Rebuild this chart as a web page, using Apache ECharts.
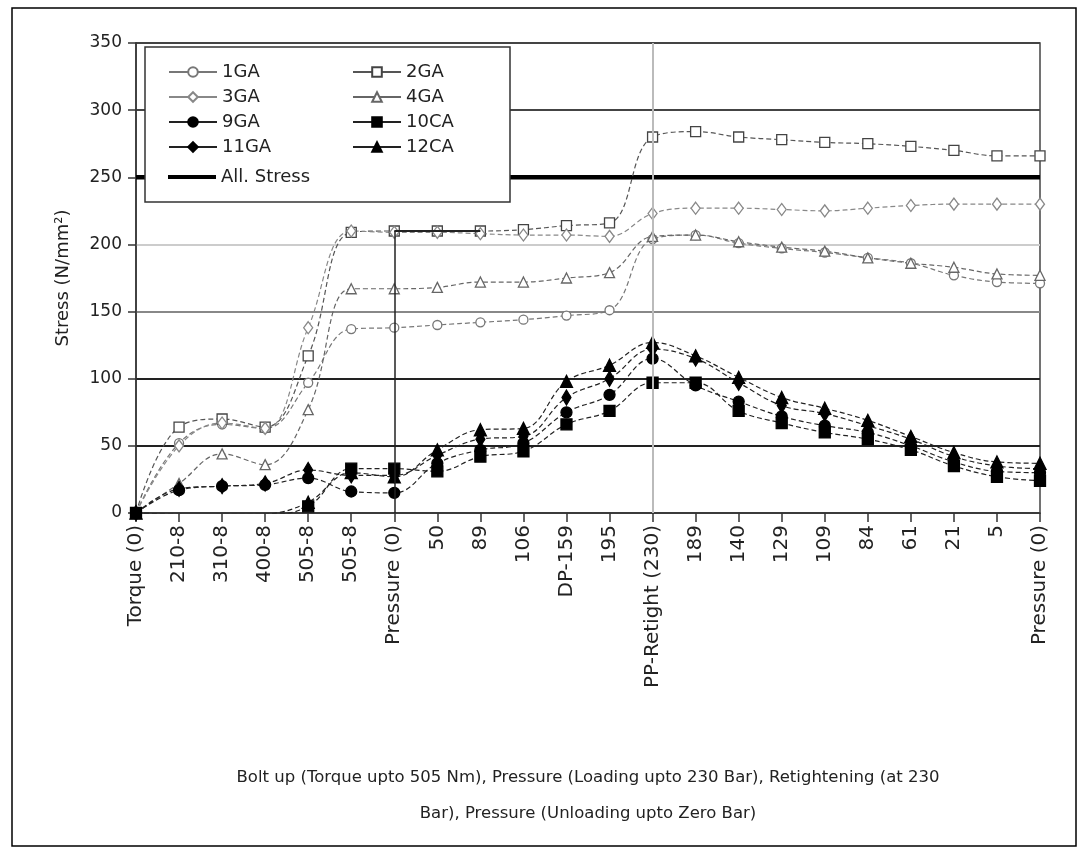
<!DOCTYPE html>
<html>
<head>
<meta charset="utf-8">
<script src="https://cdn.jsdelivr.net/npm/echarts@6/dist/echarts.min.js"></script>
<style>
html,body{margin:0;padding:0;background:#fff;}
#c{width:1088px;height:859px;}
</style>
</head>
<body>
<div id="c"></div>
<script>
const categories = ['Torque (0)','210-8','310-8','400-8','505-8','505-8','Pressure (0)','50','89','106','DP-159','195','PP-Retight (230)','189','140','129','109','84','61','21','5','Pressure (0)'];
const yTicks = [0, 50, 100, 150, 200, 250, 300, 350];

const s1GA  = [0, 52, 66, 63, 97, 137, 138, 140, 142, 144, 147, 151, 204, 207, 201, 197, 194, 190, 186, 177, 172, 171];
const s2GA  = [0, 64, 70, 64, 117, 209, 210, 210, 210, 211, 214, 216, 280, 284, 280, 278, 276, 275, 273, 270, 266, 266];
const s3GA  = [0, 50, 67, 63, 138, 210, 209, 209, 208, 207, 207, 206, 223, 227, 227, 226, 225, 227, 229, 230, 230, 230];
const s4GA  = [0, 22, 44, 36, 77, 167, 167, 168, 172, 172, 175, 179, 206, 207, 202, 198, 195, 190, 186, 183, 178, 177];
const s9GA  = [0, 17, 20, 21, 26, 16, 15, 37, 47, 52, 75, 88, 115, 95, 83, 72, 65, 60, 50, 38, 31, 30];
const s10CA = [0, -3, -1, -1, 5, 33, 33, 31, 42, 46, 66, 76, 97, 97, 76, 67, 60, 55, 47, 35, 27, 24];
const s11GA = [0, 18, 20, 22, 32, 28, 28, 43, 55, 57, 86, 100, 122, 115, 97, 80, 74, 65, 55, 42, 35, 33];
const s12CA = [0, -1, -2, -1, 8, 30, 27, 47, 62, 63, 98, 110, 127, 117, 101, 86, 78, 69, 57, 45, 38, 37];
const allowStress = [250, 250, 250, 250, 250, 250, 250, 250, 250, 250, 250, 250, 250, 250, 250, 250, 250, 250, 250, 250, 250, 250];
const markIdx = 6, markTop = 210, markEnd = 8, retightIdx = 12;

const FONT = 'DejaVu Sans';

function mk(name, data, symbol, size, lineColor, markColor, filled) {
  return {
    name, type: 'line', data, symbol, symbolSize: size, smooth: 0.4,
    showSymbol: true,
    lineStyle: { color: lineColor, width: 1.2, type: [5, 3] },
    itemStyle: { color: filled ? markColor : '#fff', borderColor: markColor, borderWidth: 1.3 },
    z: 2
  };
}

const series = [
  mk('1GA', s1GA, 'circle', 9, '#777', '#777', false),
  mk('2GA', s2GA, 'rect', 10, '#555', '#444', false),
  mk('3GA', s3GA, 'diamond', [9, 12], '#888', '#888', false),
  mk('4GA', s4GA, 'triangle', 10, '#666', '#666', false),
  mk('9GA', s9GA, 'circle', 11, '#222', '#000', true),
  mk('10CA', s10CA, 'rect', 11, '#222', '#000', true),
  mk('11GA', s11GA, 'diamond', [9, 15], '#222', '#000', true),
  mk('12CA', s12CA, 'triangle', 12, '#222', '#000', true),
  {
    name: 'All. Stress', type: 'line', data: allowStress, symbol: 'none', z: 1,
    lineStyle: { color: '#000', width: 4.5, type: 'solid' }, itemStyle: { color: '#000' },
    markLine: {
      silent: true, symbol: 'none', label: { show: false },
      data: [
        [{ coord: [markIdx, 0], lineStyle: { color: '#222', width: 1.5, type: 'solid' } }, { coord: [markIdx, markTop] }],
        [{ coord: [markIdx, markTop], lineStyle: { color: '#222', width: 2, type: 'solid' } }, { coord: [markEnd, markTop] }],
        [{ coord: [retightIdx, 0], lineStyle: { color: '#bbb', width: 2, type: 'solid' } }, { coord: [retightIdx, 350] }]
      ]
    }
  }
];

const legendText = { fontFamily: FONT, fontSize: 18, color: '#222', lineHeight: 20 };

const chart = echarts.init(document.getElementById('c'), null, { renderer: 'canvas' });
chart.setOption({
  animation: false,
  backgroundColor: '#fff',
  textStyle: { fontFamily: FONT },
  grid: { left: 136, right: 48, top: 43, bottom: 346, show: true, borderColor: '#444', borderWidth: 1.5, backgroundColor: 'transparent' },
  legend: [
    {
      data: ['1GA', '3GA', '9GA', '11GA'],
      orient: 'vertical', left: 163, top: 57, itemGap: 5, itemWidth: 48, itemHeight: 12,
      textStyle: legendText, lineStyle: { type: 'solid' }, z: 10, selectedMode: false
    },
    {
      data: ['2GA', '4GA', '10CA', '12CA'],
      orient: 'vertical', left: 347, top: 57, itemGap: 5, itemWidth: 48, itemHeight: 12,
      textStyle: legendText, lineStyle: { type: 'solid' }, z: 10, selectedMode: false
    },
    {
      data: [{ name: 'All. Stress', icon: 'rect' }],
      orient: 'vertical', left: 163, top: 162, itemWidth: 48, itemHeight: 4,
      itemStyle: { color: '#000' },
      textStyle: legendText, z: 10, selectedMode: false
    }
  ],
  graphic: [
    { type: 'rect', z: 8, shape: { x: 145, y: 47, width: 365, height: 155 }, style: { fill: '#fff', stroke: '#333', lineWidth: 1.5 } },
    { type: 'rect', z: 0, shape: { x: 12, y: 8, width: 1064, height: 838 }, style: { fill: 'none', stroke: '#000', lineWidth: 1.5 } }
  ],
  xAxis: {
    type: 'category', data: categories, boundaryGap: false,
    axisLine: { lineStyle: { color: '#333', width: 1.5 } },
    axisTick: { show: true, length: 9, lineStyle: { color: '#333', width: 1.5 } },
    axisLabel: { rotate: 90, interval: 0, margin: 12, fontFamily: FONT, fontSize: 20, color: '#222' },
    splitLine: { show: false },
    name: 'Bolt up (Torque upto 505 Nm), Pressure (Loading upto 230 Bar), Retightening (at 230\nBar), Pressure (Unloading upto Zero Bar)',
    nameLocation: 'middle', nameGap: 247,
    nameTextStyle: { fontFamily: FONT, fontSize: 16.5, color: '#222', lineHeight: 36 }
  },
  yAxis: {
    type: 'value', min: 0, max: 350, interval: 50,
    axisLine: { show: true, lineStyle: { color: '#333', width: 1.5 } },
    axisTick: { show: true, length: 8, lineStyle: { color: '#333', width: 1.5 } },
    axisLabel: { margin: 14, fontFamily: FONT, fontSize: 17, color: '#222', formatter: v => yTicks.includes(v) ? String(v) : '' },
    splitLine: { show: true, lineStyle: { width: 2, color: ['#555', '#222', '#222', '#888', '#ccc', '#888', '#444', '#444'] } },
    name: 'Stress (N/mm²)', nameLocation: 'middle', nameRotate: 90, nameGap: 64,
    nameTextStyle: { fontFamily: FONT, fontSize: 18, color: '#222' }
  },
  series
});
</script>
</body>
</html>
